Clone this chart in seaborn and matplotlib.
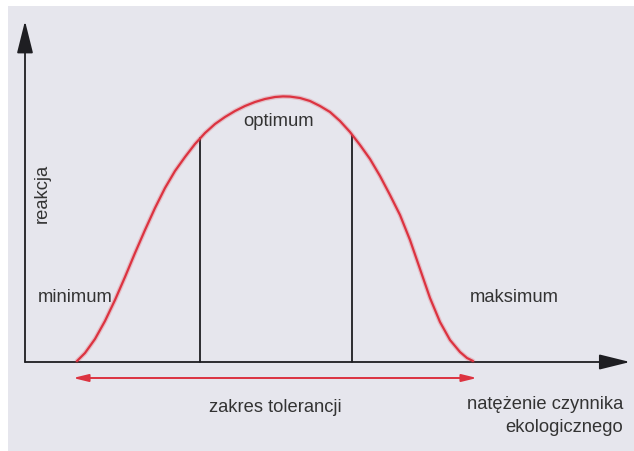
import matplotlib
matplotlib.use("Agg")
import matplotlib.pyplot as plt
from matplotlib.patches import Rectangle
import seaborn as sns
import pandas as pd

# ---- data (x = natężenie, y = reakcja) ----
curve_x = [52, 60, 70, 80, 90, 100, 110, 120, 130, 140, 150, 160, 170, 180, 190,
           200, 210, 220, 230, 240, 250, 258, 265, 275, 285, 295, 305, 315, 325,
           335, 345, 355, 365, 375, 385, 395, 405, 415, 425, 435, 442, 448]
curve_y = [1, 9, 23, 41, 62, 85, 109, 132, 154, 174, 191, 205, 218, 229, 238,
           245, 251, 256, 260, 263, 265, 265.6, 265.4, 264, 261, 256, 250, 241, 230,
           217, 203, 186, 167, 147, 122, 93, 64, 40, 22, 10, 4, 1]
optimum_bounds_x = [175, 327]
optimum_bounds_y = [224, 227]
tolerance_range = [48, 452]
axis_x_max = 605
axis_y_max = 341

label_y = "reakcja"
label_x_lines = ["natężenie czynnika", "ekologicznego"]
label_min = "minimum"
label_max = "maksimum"
label_opt = "optimum"
label_tol = "zakres tolerancji"

df = pd.DataFrame({"x": curve_x, "y": curve_y})

sns.set_style("white")
plt.rcParams["font.family"] = ["Liberation Sans", "DejaVu Sans"]

fig = plt.figure(figsize=(6.34, 4.52), dpi=100, facecolor="white")
ax = fig.add_axes([0, 0, 1, 1])
ax.patch.set_alpha(0)
ax.add_patch(Rectangle((8 / 634, 0), 1, 1 - 7 / 452, transform=ax.transAxes,
                       facecolor="#e6e6ed", edgecolor="none", zorder=0))

axis_col = "#1e1e22"
red = "#dc3340"
txt_col = "#333333"
fs = 13.2

# axes arrows
ax.annotate("", xy=(axis_x_max, 0), xytext=(0, 0),
            arrowprops=dict(arrowstyle="-|>,head_length=0.95,head_width=0.235",
                            mutation_scale=20, color=axis_col, lw=1.3,
                            shrinkA=0, shrinkB=0))
ax.annotate("", xy=(0, axis_y_max), xytext=(0, 0),
            arrowprops=dict(arrowstyle="-|>,head_length=1.0,head_width=0.25",
                            mutation_scale=20, color=axis_col, lw=1.3,
                            shrinkA=0, shrinkB=0))

# optimum boundaries
for bx, by in zip(optimum_bounds_x, optimum_bounds_y):
    ax.plot([bx, bx], [0, by], color=axis_col, lw=1.3, zorder=2)

# response curve (soft pink halo + red line)
sns.lineplot(data=df, x="x", y="y", ax=ax, color=red, lw=3.4, alpha=0.22,
             sort=False, estimator=None, zorder=3)
line_kws = dict(solid_joinstyle="round", solid_capstyle="round")
sns.lineplot(data=df, x="x", y="y", ax=ax, color=red, lw=1.6,
             sort=False, estimator=None, zorder=4, **line_kws)

# tolerance range arrow
ax.annotate("", xy=(tolerance_range[1], -16), xytext=(tolerance_range[0], -16),
            arrowprops=dict(arrowstyle="<|-|>,head_length=0.45,head_width=0.11",
                            mutation_scale=20, color=red, lw=1.4,
                            shrinkA=0, shrinkB=0))

# labels
ax.text(17, 170, label_y, rotation=90, ha="center", va="center", fontsize=fs, color=txt_col)
ax.text(13, 66, label_min, ha="left", va="center", fontsize=fs, color=txt_col)
ax.text(445, 66, label_max, ha="left", va="center", fontsize=fs, color=txt_col)
ax.text(254, 241, label_opt, ha="center", va="center", fontsize=fs, color=txt_col)
ax.text(250, -45, label_tol, ha="center", va="center", fontsize=fs, color=txt_col)
ax.text(598, -42, label_x_lines[0], ha="right", va="center", fontsize=fs, color=txt_col)
ax.text(598, -65, label_x_lines[1], ha="right", va="center", fontsize=fs, color=txt_col)

ax.set_xlim(-25, 609)
ax.set_ylim(-89, 363)
ax.axis("off")

fig.savefig("out.png", dpi=100, facecolor="white")
